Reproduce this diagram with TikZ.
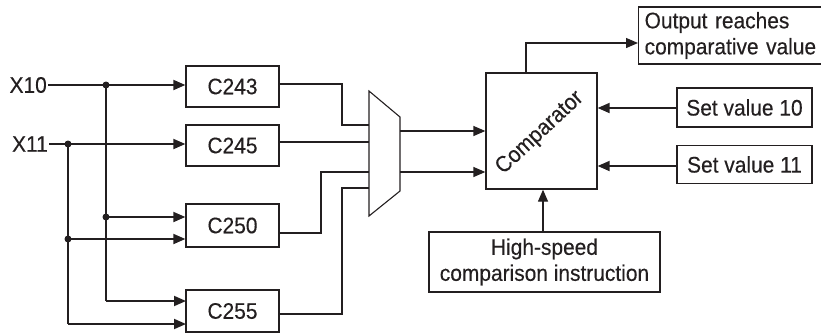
\documentclass[tikz,border=0pt]{standalone}
\usepackage{fontspec}
\setmainfont{Liberation Sans}[FakeStretch=0.93,FakeBold=0.3]
\usetikzlibrary{arrows.meta}
\definecolor{ink}{HTML}{231F20}
\begin{document}
\begin{tikzpicture}[x=1pt,y=-1pt,
  txt/.style={font=\fontsize{22.5}{26}\selectfont,text=ink},
  box/.style={txt,draw=ink,line width=1.3pt,inner sep=0pt},
  wire/.style={draw=ink,line width=1.1pt},
  feed/.style={draw=ink,line width=1.8pt,-{Triangle[length=12pt,width=10pt]}},
  feedthin/.style={draw=ink,line width=1.3pt,-{Triangle[length=12pt,width=10pt]}},
  dot/.style={circle,fill=ink,inner sep=0pt,minimum size=7pt},
  lbl/.style={txt,inner sep=1pt}]
\useasboundingbox (0,0) rectangle (821,333);

% inputs
\node[lbl,anchor=east] (x10) at (48,85) {X10};
\node[lbl,anchor=east] (x11) at (49,144) {X11};

% counters
\node[box,minimum width=93pt,minimum height=41pt] (c243) at (232.5,86.5) {C243};
\node[box,minimum width=93pt,minimum height=41pt] (c245) at (232.5,145.5) {C245};
\node[box,minimum width=93pt,minimum height=43pt] (c250) at (232.5,225.5) {C250};
\node[box,minimum width=93pt,minimum height=42pt] (c255) at (232.5,311) {C255};

% branch dots
\node[dot] (d1) at (106,85) {};
\node[dot] (d2) at (68,144) {};
\node[dot] (d3) at (106,217) {};
\node[dot] (d4) at (68,239) {};
\coordinate (t1) at (186,301);
\coordinate (t2) at (186,324);

\draw[feed] (x10.east) -- (x10.east -| c243.west);
\draw[feed] (x11.east) -- (x11.east -| c245.west);
\draw[wire] (d1.center) -- (d1.center |- t1);
\draw[wire] (d2.center) -- (d2.center |- t2);
\draw[feed] (d3.center) -- (d3.center -| c250.west);
\draw[feed] (d4.center) -- (d4.center -| c250.west);
\draw[feed] (d1.center |- t1) -- (t1);
\draw[feed] (d2.center |- t2) -- (t2);

% multiplexer
\coordinate (m1) at (369,91);
\coordinate (m2) at (400,117);
\coordinate (m3) at (400,191);
\coordinate (m4) at (369,216);
\draw[wire] (m1) -- (m2) -- (m3) -- (m4) -- cycle;

\coordinate (i1) at (369,125);
\coordinate (i2) at (369,142);
\coordinate (i3) at (369,172);
\coordinate (i4) at (369,188);
\coordinate (e1) at (279,84);
\coordinate (e3) at (279,233);
\coordinate (e4) at (279,314);
\draw[wire] (e1) -- (342,84) |- (i1);
\draw[wire] (c245.east |- i2) -- (i2);
\draw[wire] (e3) -- (321,233) |- (i3);
\draw[wire] (e4) -- (342,314) |- (i4);

% comparator
\node[box,minimum width=111pt,minimum height=116pt] (comp) at (541.5,131) {};
\node[txt,rotate=43,inner sep=0pt] (comptext) at (540,133) {Comparator};

\coordinate (o1) at (400,131);
\coordinate (o2) at (400,172);
\draw[feedthin] (o1) -- (o1 -| comp.west);
\draw[feedthin] (o2) -- (o2 -| comp.west);

% output
\node[box,anchor=west,minimum height=57pt,text width=196pt,align=left,inner xsep=6pt] (out) at (638,35.5) {Output reaches\\comparative value};
\coordinate (ctop) at (526,73);
\coordinate (oin) at (638,43);
\draw[feedthin] (ctop) |- (oin);

% set values
\node[box,minimum width=135pt,minimum height=39pt] (sv10) at (744.5,107.5) {Set value 10};
\node[box,minimum width=135pt,minimum height=38pt] (sv11) at (744.5,164.5) {Set value 11};
\coordinate (s10) at (677,108);
\coordinate (s11) at (677,166);
\draw[feed] (s10) -- (s10 -| comp.east);
\draw[feed] (s11) -- (s11 -| comp.east);

% instruction
\node[box,minimum width=231pt,minimum height=60pt,align=center] (hs) at (544.5,262) {High-speed\\comparison instruction};
\coordinate (hb) at (543,232);
\draw[feedthin] (hb) -- (hb |- comp.south);
\end{tikzpicture}
\end{document}
